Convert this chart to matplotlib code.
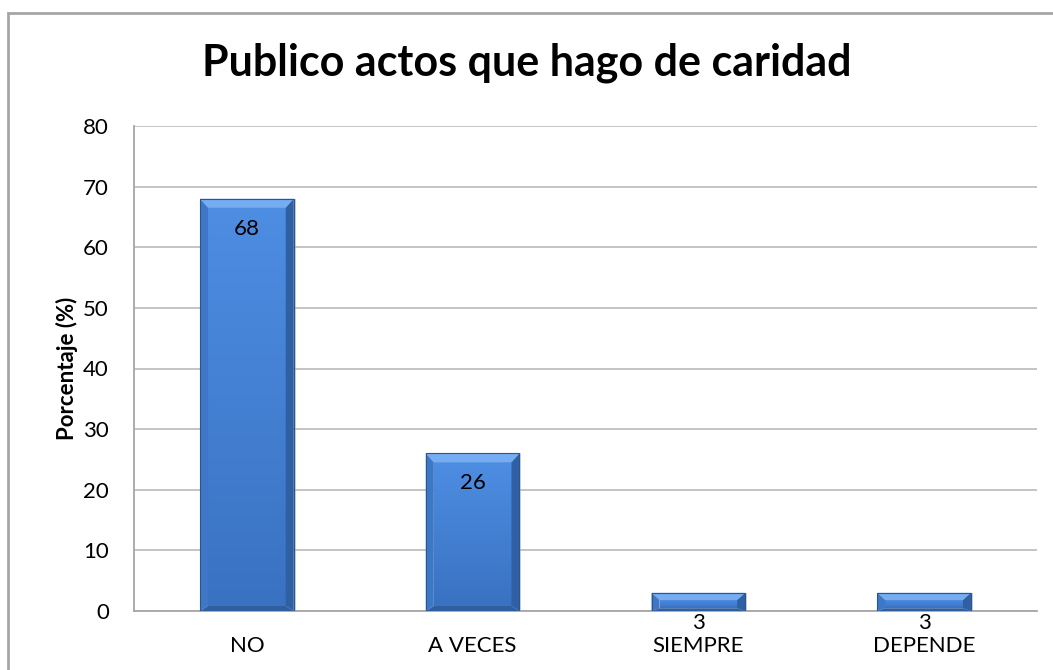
import numpy as np
import matplotlib
matplotlib.use('Agg')
import matplotlib.pyplot as plt
from matplotlib.patches import Polygon, Rectangle
from matplotlib.colors import LinearSegmentedColormap

# datos
categorias = ['NO', 'A VECES', 'SIEMPRE', 'DEPENDE']
porcentajes = [68, 26, 3, 3]
y_ticks = [0, 10, 20, 30, 40, 50, 60, 70, 80]

plt.rcParams['font.family'] = ['Lato', 'DejaVu Sans']

W, H = 1053, 670
fig = plt.figure(figsize=(W / 100, H / 100), dpi=100)
ax = fig.add_axes([134 / W, 59 / H, 903 / W, 485 / H])

# marco del grafico
fig.patches.append(Rectangle((8 / W, -0.1), 1.2, 1.1 - 13 / H, transform=fig.transFigure,
                             fill=False, ec='#A6A6A6', lw=2))

ax.set_xlim(-0.5, len(categorias) - 0.5)
ax.set_ylim(0, 80)
ax.set_yticks(y_ticks)
ax.set_xticks(range(len(categorias)))
ax.set_xticklabels(categorias)
ax.yaxis.grid(True, color='#BFBFBF', lw=1.3)
ax.set_axisbelow(True)
for s in ['top', 'right']:
    ax.spines[s].set_visible(False)
for s in ['left', 'bottom']:
    ax.spines[s].set_color('#A6A6A6')
    ax.spines[s].set_linewidth(1.3)
ax.tick_params(axis='both', length=0, labelsize=16, colors='black')
ax.tick_params(axis='y', pad=18)
ax.tick_params(axis='x', pad=18)

# barras con bisel
ancho = 0.415
px_x = (len(categorias)) / 903.0
px_y = 80 / 485.0
cmap = LinearSegmentedColormap.from_list('cara', ['#3A72C2', '#4D8DE2'])
grad = np.linspace(0, 1, 100).reshape(-1, 1)

for i, v in enumerate(porcentajes):
    x0, x1 = i - ancho / 2, i + ancho / 2
    y0, y1 = 0, v
    bx = 8 * px_x
    by_top = min(9 * px_y, v * 0.4)
    by_bot = min(5 * px_y, v * 0.15)
    xi0, xi1, yi0, yi1 = x0 + bx, x1 - bx, y0 + by_bot, y1 - by_top
    # sombra
    ax.add_patch(Rectangle((x0 + 2 * px_x, y0), ancho, v, fc='#9AA6B5', ec='none', alpha=0.5, zorder=2))
    ax.imshow(grad, cmap=cmap, origin='lower', extent=[xi0, xi1, yi0, yi1],
              aspect='auto', zorder=3)
    ax.add_patch(Polygon([(x0, y1), (x1, y1), (xi1, yi1), (xi0, yi1)], fc='#76ACF2', ec='none', zorder=3))
    ax.add_patch(Polygon([(x0, y0), (x1, y0), (xi1, yi0), (xi0, yi0)], fc='#305FA0', ec='none', zorder=3))
    ax.add_patch(Polygon([(x0, y0), (x0, y1), (xi0, yi1), (xi0, yi0)], fc='#3E77C6', ec='none', zorder=3))
    ax.add_patch(Polygon([(x1, y0), (x1, y1), (xi1, yi1), (xi1, yi0)], fc='#2F60A3', ec='none', zorder=3))
    ax.add_patch(Rectangle((x0, y0), ancho, v, fill=False, ec='#2A5590', lw=0.8, zorder=4))
    ax.annotate(str(v), (i, v), xytext=(0, -30), textcoords='offset pixels',
                ha='center', va='center', fontsize=16, zorder=5)

ax.set_xlim(-0.5, len(categorias) - 0.5)
ax.set_ylim(0, 80)

fig.text(67 / W, 1 - 368 / H, 'Porcentaje (%)', rotation=90,
         ha='center', va='center', fontsize=16, fontweight='bold')
fig.text(527 / W, 1 - 63 / H, 'Publico actos que hago de caridad', ha='center', va='center',
         fontsize=31, fontweight='bold')

fig.savefig('out.png', dpi=100)
